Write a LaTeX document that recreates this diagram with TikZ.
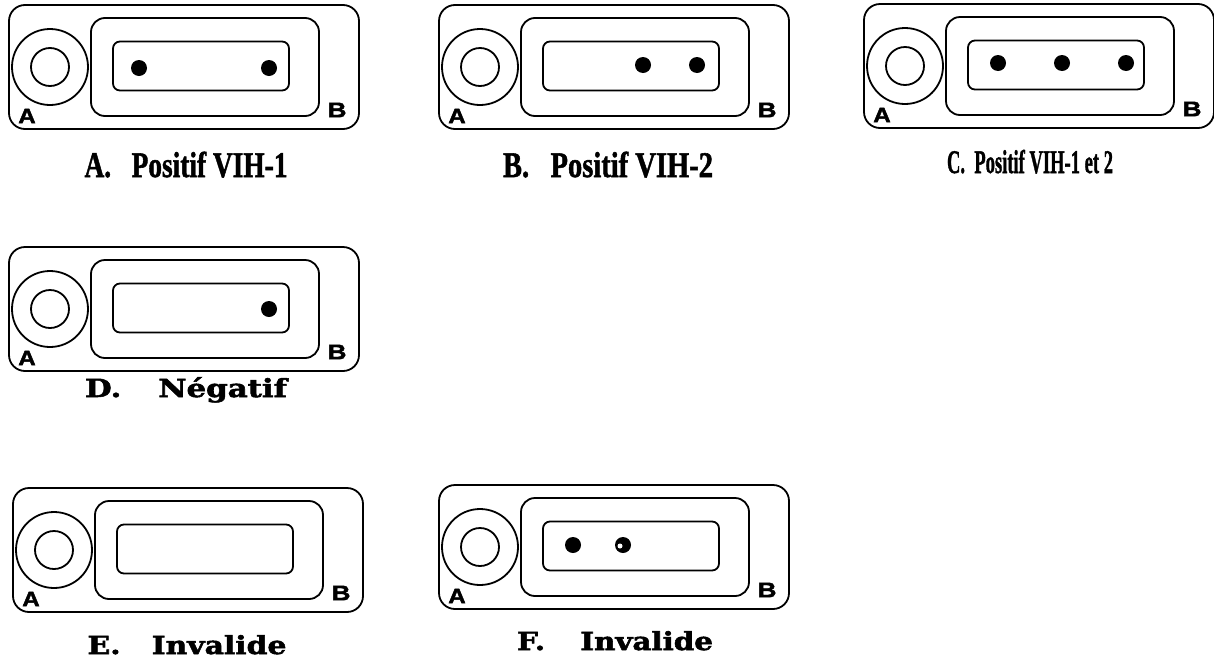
\documentclass[tikz,border=0pt]{standalone}
\usepackage{fontspec}
\usepackage{graphicx}
\newfontfamily\capfont{Liberation Serif}[BoldFeatures={FakeBold=1.5}]
\newfontfamily\schfont{DejaVu Serif}[BoldFeatures={FakeBold=2}]
\newfontfamily\labfont{Liberation Sans}[BoldFeatures={FakeBold=2}]
\usetikzlibrary{calc}

\begin{document}
\begin{tikzpicture}[x=1pt, y=-1pt, line width=1.8pt,
  case/.style={draw, rounded corners=16pt, minimum width=350pt, minimum height=124pt, inner sep=0pt},
  window/.style={draw, rounded corners=14pt, minimum width=228pt, minimum height=98pt, inner sep=0pt},
  strip/.style={draw, rounded corners=7pt, minimum width=176pt, minimum height=49pt, inner sep=0pt},
  well/.style={draw, circle, minimum size=76pt, inner sep=0pt},
  hole/.style={draw, circle, minimum size=38pt, inner sep=0pt},
  spot/.style={fill, circle, minimum size=16pt, inner sep=0pt},
  letter/.style={font=\labfont\bfseries\fontsize{21}{21}\selectfont, inner sep=0pt},
  capa/.style={font=\capfont\bfseries\fontsize{36}{36}\selectfont, inner sep=0pt, anchor=base},
  capb/.style={font=\schfont\bfseries\fontsize{25}{25}\selectfont, inner sep=0pt, anchor=base}]
\useasboundingbox (0,0) rectangle (1214,659);

% Cassettes (top left corner of each case)
\foreach \n/\x/\y in {a/9/5, b/439/5, c/864/4, d/9/247, e/13/488, f/439/485} {
   \node[case] (case\n) at (\x+175, \y+62) {};
   \node[window] (win\n) at (\x+196, \y+62) {};
   \node[strip] (strip\n) at (\x+192, \y+61) {};
   \node[well] (well\n) at (\x+41, \y+62) {};
   \node[hole] (hole\n) at (well\n) {};
   \node[letter] (sa\n) at (\x+18, \y+111) {\scalebox{1.15}[1]{A}};
   \node[letter] (sb\n) at (\x+328, \y+105) {\scalebox{1.25}[1]{B}};
}

% Result spots
\foreach \n/\x/\y in {a1/139/68, a2/269/68, b1/643/65, b2/697/65,
   c1/998/63, c2/1062/63, c3/1126/63, d1/269/309, f1/573/545, f2/623/545} {
   \node[spot] (dot\n) at (\x,\y) {};
}
\fill[white] ($(dotf2)+(-3,1)$) circle (2.5);

% Captions
\node[capa] (capa) at (186,177) {\resizebox{203pt}{\height}{A.\ \ \ Positif VIH-1}};
\node[capa] (capb) at (608,177) {\resizebox{210pt}{\height}{B.\ \ \ Positif VIH-2}};
\node[capa, font=\capfont\bfseries\fontsize{33}{33}\selectfont] (capc) at (1030,173)
   {\resizebox{166pt}{\height}{C.\ \ Positif VIH-1 et 2}};
\node[capb] (capd) at (186,397) {\resizebox{202pt}{\height}{D.\hspace{30pt}Négatif}};
\node[capb] (cape) at (187,654) {\resizebox{199pt}{\height}{E.\hspace{26pt}Invalide}};
\node[capb] (capf) at (615,650) {\resizebox{196pt}{\height}{F.\hspace{30pt}Invalide}};
\end{tikzpicture}
\end{document}
